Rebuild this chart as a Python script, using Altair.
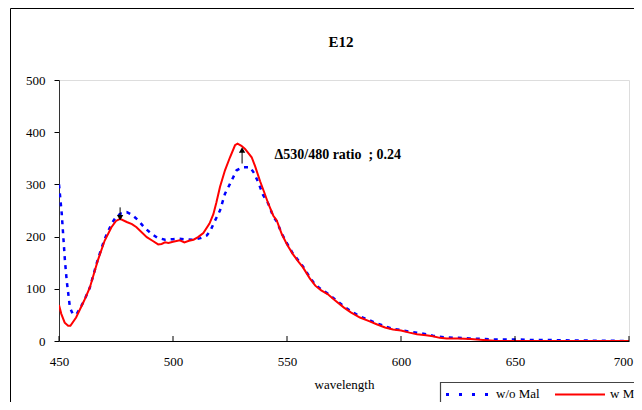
import altair as alt
import pandas as pd

# w/o Mal (blue dotted)
wl_wo = [450, 451.2, 451.9, 452.6, 453.4, 454.8, 456, 457.7, 461, 463.5, 467, 470, 473, 475, 477, 479.7,
         482, 484.8, 487.5, 490.7, 493, 496.5, 500, 502.3, 505, 509, 512, 514.8, 516.5, 517.7, 520.6,
         522.8, 525, 527.9, 530.8, 533.8, 535.5, 537.4, 539.5, 541.8, 544, 545.5, 547.7, 550, 552.5,
         555, 557, 560, 562.4, 565, 567.8, 571, 575, 578, 582, 586, 589.3, 593, 596.5, 600, 603.7,
         607, 611, 614, 617, 620, 625, 630, 636, 641, 650, 657, 664, 675, 700]
val_wo = [300, 244, 199, 154, 115, 64, 52, 51, 77, 102, 156, 195, 224, 238, 244, 247,
          242, 231, 217, 205, 198, 194, 195, 196, 195, 194, 197, 202, 212, 224, 250,
          282, 301, 327, 333, 333, 322, 304, 280, 263, 238, 229, 206, 187, 168,
          154, 143, 122, 108, 99, 91, 80, 66, 57, 47, 40, 34, 28, 23, 21, 18,
          16, 13, 10, 8, 7, 6, 5, 4, 3, 3, 2, 2, 1, 0]

# w Mal (red solid)
wl_w = [450, 451, 452.5, 454, 455, 457.5, 461, 463.5, 467, 470, 473, 475, 476.8, 479.7, 482, 484,
        488.5, 491, 493.5, 495, 496.5, 498, 500, 503, 505, 507, 509, 511, 513.3, 516, 517.7, 519,
        520.6, 522.8, 525, 527.2, 528.3, 530, 531.6, 534.5, 536, 538.2, 540, 541.8, 544, 545.5,
        547.7, 550, 552.5, 555, 557, 560, 562.4, 565, 567.8, 571, 575, 578, 582, 586, 589.3, 593,
        596.5, 600, 603.7, 607, 611, 614, 617, 620, 625, 630.6, 636, 641, 650, 660, 680, 700]
val_w = [69, 52, 35, 29, 29, 45, 77, 102, 154, 192, 218, 230, 234, 228, 224, 218,
         199, 192, 185, 186, 189, 188, 190, 193, 189, 192, 194, 199, 207, 225, 243, 265,
         295, 327, 352, 375, 378, 374, 368, 352, 335, 306, 285, 263, 240, 231,
         205, 185, 167, 152, 141, 120, 106, 97, 90, 78, 64, 55, 45, 38, 32, 26,
         22, 20, 16, 13, 11, 9, 6, 5, 5, 4, 2, 0.5, 0, 0, 0, 0]

series_names = ["w/o Mal", "w Mal"]
series_colors = ["#0000FF", "#FF0000"]

x_ticks = [450, 500, 550, 600, 650, 700]
y_ticks = [0, 100, 200, 300, 400, 500]

# arrows: (wavelength, tail value, head value)
arrow_down = (476.8, 256, 236)
arrow_up = (530.3, 340, 366)
annot_text = "\u0394530/480 ratio\u00a0\u00a0; 0.24"
annot_pos = (544.5, 356)
title_text = "E12"

SERIF = "Liberation Serif"

df_wo = pd.DataFrame({"wl": wl_wo, "val": val_wo})
df_w = pd.DataFrame({"wl": wl_w, "val": val_w})

xscale = alt.Scale(domain=[450, 700], nice=False)
yscale = alt.Scale(domain=[0, 500], nice=False)

x_enc = alt.X("wl:Q", scale=xscale,
              axis=alt.Axis(values=x_ticks, title="wavelength", grid=False, tickSize=0,
                            labelFont=SERIF, labelFontSize=13, labelColor="#000",
                            labelFlush=False, labelBound=False, labelOverlap=False,
                            labelOffset={"condition": {"test": "datum.value == 700", "value": -6},
                                         "value": 0},
                            labelPadding=14, titleFont=SERIF, titleFontSize=13,
                            titleFontWeight="normal", titleColor="#000", titlePadding=10,
                            domainColor="#000"))
y_enc = alt.Y("val:Q", scale=yscale,
              axis=alt.Axis(values=y_ticks, title=None, grid=False, tickSize=5, tickColor="#000",
                            labelFont=SERIF, labelFontSize=13, labelColor="#000",
                            labelFlush=False, labelPadding=9, domainColor="#333"))

one = pd.DataFrame({"a": [0]})

frame = alt.Chart(one).mark_rect(
    fill=None, stroke="#000", strokeWidth=1, clip=False
).encode(x=alt.value(-48.5), x2=alt.value(640), y=alt.value(-71.5), y2=alt.value(400))

title = alt.Chart(pd.DataFrame({"t": [title_text]})).mark_text(
    font=SERIF, fontSize=15, fontWeight="bold", color="#000", align="center", baseline="middle"
).encode(x=alt.value(282), y=alt.value(-38), text="t:N")

line_wo = alt.Chart(df_wo).mark_line(strokeWidth=2.5, strokeDash=[4, 5], color=series_colors[0],
                                     clip=True).encode(x=x_enc, y=y_enc)
line_w = alt.Chart(df_w).mark_line(strokeWidth=2, color=series_colors[1], clip=True).encode(
    x=alt.X("wl:Q", scale=xscale), y=alt.Y("val:Q", scale=yscale))

xt = alt.Chart(pd.DataFrame({"t": x_ticks})).mark_rule(color="#000").encode(
    x=alt.X("t:Q", scale=xscale), y=alt.value(261), y2=alt.value(256))

arrows = pd.DataFrame({
    "wl": [arrow_down[0], arrow_up[0]],
    "tail": [arrow_down[1], arrow_up[1]],
    "head": [arrow_down[2], arrow_up[2]],
    "shape": ["triangle-down", "triangle-up"],
})
arrow_rule = alt.Chart(arrows).mark_rule(color="#000", strokeWidth=1).encode(
    x=alt.X("wl:Q", scale=xscale), y=alt.Y("tail:Q", scale=yscale), y2="head:Q")
arrow_head = alt.Chart(arrows).mark_point(filled=True, color="#000", size=40, opacity=1).encode(
    x=alt.X("wl:Q", scale=xscale), y=alt.Y("head:Q", scale=yscale),
    shape=alt.Shape("shape:N", scale=None))

annot = alt.Chart(pd.DataFrame({"wl": [annot_pos[0]], "val": [annot_pos[1]], "t": [annot_text]})).mark_text(
    align="left", baseline="middle", font=SERIF, fontSize=14, fontWeight="bold", color="#000"
).encode(x=alt.X("wl:Q", scale=xscale), y=alt.Y("val:Q", scale=yscale), text="t:N")

# manual legend (box cut by the page edge, as in the reference)
leg_box = alt.Chart(one).mark_rect(fill="white", stroke="#444", strokeWidth=1.2, clip=False).encode(
    x=alt.value(381.5), x2=alt.value(640), y=alt.value(302.5), y2=alt.value(400))
leg_sym_wo = alt.Chart(one).mark_rule(color=series_colors[0], strokeWidth=3, strokeDash=[3, 10]).encode(
    x=alt.value(387), x2=alt.value(431), y=alt.value(314.5))
leg_sym_w = alt.Chart(one).mark_rule(color=series_colors[1], strokeWidth=2).encode(
    x=alt.value(496), x2=alt.value(546), y=alt.value(314.5))
leg_txt = alt.Chart(pd.DataFrame({"t": series_names, "px": [437, 551]})).mark_text(
    font=SERIF, fontSize=13, color="#000", align="left", baseline="middle"
).encode(x=alt.X("px:Q", scale=None), y=alt.value(314), text="t:N")

chart = alt.layer(frame, title, line_wo, line_w, xt, arrow_rule, arrow_head, annot,
                  leg_box, leg_sym_wo, leg_sym_w, leg_txt).properties(
    width=570, height=261,
    autosize=alt.AutoSizeParams(type="none"),
    padding={"left": 51, "top": 72, "right": 5, "bottom": 61},
).configure_view(stroke="#808080", strokeWidth=1).configure(background="white")

chart.save("out.html", embed_options={"renderer": "svg", "actions": False})
